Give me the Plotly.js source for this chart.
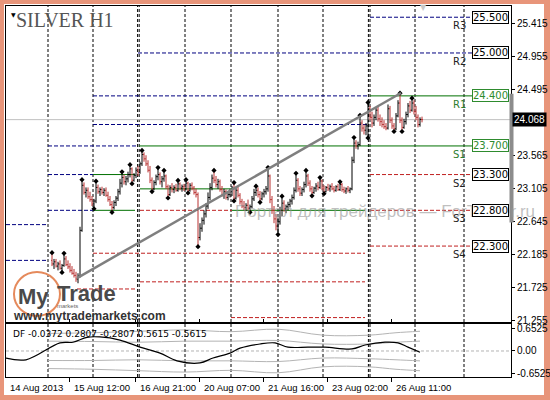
<!DOCTYPE html>
<html><head><meta charset="utf-8">
<script src="https://cdn.plot.ly/plotly-3.0.1.min.js"></script>
<style>
html,body{margin:0;padding:0;width:550px;height:400px;overflow:hidden;background:#e8957a;}
#panel{position:absolute;left:4px;top:4px;width:540px;height:391px;background:#fff;}
#chart{position:absolute;left:0;top:0;width:550px;height:400px;}
</style></head><body>
<div id="panel"></div><div id="chart"></div>
<script>
// ---------- DATA ----------
// bar index 0 ... 185 (hourly bars, SILVER H1)
const opens = [22.10,22.05,22.08,22.02,22.05,21.99,22.03,22.12,22.04,22.01,21.96,21.92,21.89,21.84,21.88,22.52,23.15,23.05,23.08,22.99,
22.95,22.90,22.93,23.12,23.06,23.09,23.05,23.08,23.01,22.95,22.88,22.84,22.91,22.97,23.06,23.18,23.26,23.20,23.24,23.30,
23.38,23.22,23.29,23.36,23.33,23.45,23.58,23.52,23.45,23.36,23.22,23.10,23.19,23.27,23.30,23.20,23.24,23.28,23.13,23.02,
23.12,23.09,23.12,23.08,23.17,23.11,23.13,23.10,23.18,23.08,23.15,23.11,23.05,23.02,22.42,22.55,22.66,22.75,22.86,22.98,
23.12,23.25,23.22,23.16,23.20,23.09,23.02,23.06,22.98,23.02,23.06,23.11,22.97,23.08,23.01,22.92,22.86,22.84,22.87,22.83,
22.85,22.96,23.05,23.08,23.02,22.96,23.03,23.06,23.10,23.28,22.95,22.80,22.68,22.58,22.64,22.80,22.90,22.82,22.85,22.88,
22.93,22.98,23.08,23.22,23.10,23.04,23.09,23.16,23.28,23.18,23.10,23.05,23.11,23.14,23.12,23.21,23.11,23.06,23.12,23.10,
23.13,23.10,23.08,23.13,23.09,23.16,23.09,23.07,23.10,23.08,23.10,23.50,23.74,23.70,23.72,24.02,23.95,23.92,23.98,24.22,
24.10,24.02,24.10,24.20,24.08,24.04,24.00,23.97,23.95,24.22,24.06,23.98,23.94,24.12,24.30,24.06,23.96,24.04,24.14,24.26,
24.20,24.30,24.18,24.10,24.00,24.07];
const highs = [22.20,22.12,22.12,22.08,22.10,22.05,22.19,22.16,22.10,22.06,22.02,21.98,21.94,21.92,22.57,23.22,23.19,23.12,23.12,23.06,
23.00,22.96,23.20,23.16,23.12,23.13,23.11,23.12,23.06,23.00,22.93,22.94,23.00,23.10,23.24,23.33,23.30,23.28,23.34,23.43,
23.40,23.32,23.40,23.42,23.48,23.63,23.61,23.57,23.50,23.42,23.26,23.22,23.30,23.39,23.33,23.28,23.35,23.30,23.16,23.15,
23.18,23.15,23.17,23.21,23.19,23.16,23.17,23.22,23.20,23.18,23.19,23.14,23.10,23.05,22.62,22.70,22.80,22.90,23.05,23.18,
23.30,23.35,23.28,23.24,23.23,23.14,23.10,23.09,23.05,23.10,23.14,23.18,23.12,23.13,23.04,22.96,22.93,22.90,22.95,22.88,
23.00,23.10,23.13,23.12,23.07,23.06,23.10,23.14,23.39,23.30,23.00,22.86,22.75,22.70,22.85,22.99,22.94,22.88,22.92,22.96,
23.02,23.12,23.31,23.25,23.14,23.12,23.20,23.35,23.31,23.22,23.14,23.13,23.18,23.20,23.25,23.23,23.15,23.14,23.17,23.16,
23.18,23.14,23.15,23.17,23.19,23.18,23.13,23.12,23.14,23.12,23.55,23.81,23.78,23.76,24.12,24.06,24.00,24.02,24.30,24.26,
24.18,24.14,24.24,24.26,24.14,24.10,24.06,24.02,24.28,24.26,24.10,24.02,24.16,24.34,24.43,24.10,24.08,24.18,24.30,24.33,
24.36,24.34,24.26,24.14,24.10,24.11];
const lows = [22.02,21.98,22.00,21.96,21.97,21.94,22.01,22.02,21.98,21.93,21.90,21.86,21.80,21.78,21.86,22.50,23.02,22.98,22.96,22.92,
22.86,22.83,22.90,23.03,23.00,23.02,23.00,22.99,22.92,22.86,22.78,22.81,22.86,22.93,23.02,23.12,23.16,23.15,23.19,23.26,
23.18,23.20,23.25,23.28,23.31,23.42,23.48,23.42,23.33,23.18,23.07,23.08,23.15,23.22,23.16,23.12,23.20,23.10,22.98,23.00,
23.05,23.04,23.06,23.06,23.08,23.06,23.07,23.08,23.05,23.06,23.08,23.02,22.98,22.30,22.38,22.50,22.60,22.70,22.82,22.94,
23.08,23.18,23.12,23.10,23.06,22.99,22.96,22.95,22.94,22.98,23.00,22.94,22.95,22.98,22.88,22.83,22.80,22.79,22.80,22.78,
22.83,22.93,23.00,22.98,22.92,22.94,22.98,23.02,23.06,22.90,22.75,22.62,22.52,22.47,22.60,22.72,22.78,22.76,22.80,22.84,
22.88,22.95,23.05,23.06,23.00,23.00,23.05,23.12,23.14,23.06,23.01,23.03,23.06,23.08,23.10,23.08,23.04,23.05,23.07,23.06,
23.08,23.05,23.06,23.07,23.07,23.06,23.04,23.03,23.05,23.04,23.08,23.46,23.66,23.65,23.70,23.90,23.86,23.85,23.82,24.06,
23.96,23.98,24.06,24.04,23.98,23.96,23.94,23.92,23.93,24.02,23.94,23.91,23.92,24.10,24.02,23.91,23.94,24.00,24.10,24.16,
24.18,24.14,24.06,23.96,23.97,24.03];
const closes = [22.05,22.08,22.02,22.05,21.99,22.03,22.12,22.04,22.01,21.96,21.92,21.89,21.84,21.88,22.52,23.15,23.05,23.08,22.99,22.95,
22.90,22.93,23.12,23.06,23.09,23.05,23.08,23.01,22.95,22.88,22.84,22.91,22.97,23.06,23.18,23.26,23.20,23.24,23.30,23.38,
23.22,23.29,23.36,23.33,23.45,23.58,23.52,23.45,23.36,23.22,23.10,23.19,23.27,23.30,23.20,23.24,23.28,23.13,23.02,23.12,
23.09,23.12,23.08,23.17,23.11,23.13,23.10,23.18,23.08,23.15,23.11,23.05,23.02,22.42,22.55,22.66,22.75,22.86,22.98,23.12,
23.25,23.22,23.16,23.20,23.09,23.02,23.06,22.98,23.02,23.06,23.11,22.97,23.08,23.01,22.92,22.86,22.84,22.87,22.83,22.85,
22.96,23.05,23.08,23.02,22.96,23.03,23.06,23.10,23.28,22.95,22.80,22.68,22.58,22.64,22.80,22.90,22.82,22.85,22.88,22.93,
22.98,23.08,23.22,23.10,23.04,23.09,23.16,23.28,23.18,23.10,23.05,23.11,23.14,23.12,23.21,23.11,23.06,23.12,23.10,23.13,
23.10,23.08,23.13,23.09,23.16,23.09,23.07,23.10,23.08,23.10,23.50,23.74,23.70,23.72,24.02,23.95,23.92,23.98,24.22,24.10,
24.02,24.10,24.20,24.08,24.04,24.00,23.97,23.95,24.22,24.06,23.98,23.94,24.12,24.30,24.06,23.96,24.04,24.14,24.26,24.20,
24.30,24.18,24.10,24.00,24.07,24.068];

// Fractals (bar indices)
const fractalUpIdx = [0,6,15,22,35,39,45,53,56,63,67,81,91,102,108,115,122,127,134,144,151,154,158,174,180];
const fractalDnIdx = [5,21,30,40,50,58,68,73,91,99,104,113,130,136,158,171,175];

// Trend line (bar index, price)
const trendIdx = [12.5, 174.5];
const trendPrice = [21.853, 24.44];

// Current price
const lastPrice = 24.068;

// Pivot levels of the current week
const pivotNames  = ["R3","R2","R1","S1","S2","S3","S4"];
const pivotPrices = [25.5, 25.0, 24.4, 23.7, 23.3, 22.8, 22.3];

// Horizontal level segments: price, start bar, end bar, kind (n = navy dashed, g = green, r = red dashed)
const segPrice = [25.5, 25.0, 24.4, 24.4, 24.0, 23.7, 23.7, 23.3, 23.3, 23.3, 23.1, 22.8, 22.8, 22.8, 22.8, 22.8, 22.6, 22.2, 22.3, 22.1, 21.8, 21.7, 21.3];
const segStart = [159, 43, 20.5, 159, 20.5, -2, 43.6, -2, 20.5, 159, 44, -2, 20.5, 44, 90, 159, -23, 20.5, 159, -23, 44, 12.5, 89.5];
const segEnd   = [210, 210, 158.2, 210, 158.2, 43, 210, 20.5, 41.5, 210, 90, 20.5, 41.5, 90, 156.5, 210, -2, 156.5, 210, -2, 156.5, 41.5, 156.5];
const segKind  = ["n","n","n","g","n","n","g","n","g","r","g","n","g","r","g","r","n","r","r","n","r","r","r"];

// Day / week separators (bar index)
const separators = [-2, 20.5, 42.8, 43.6, 66.5, 89.5, 113, 135.5, 158.2, 159, 181.5, 206];

// Time axis
const timeTickIdx = [-22.5, 8.5, 41.5, 73.5, 105.5, 137.5, 169.5];
const timeTickText = ["14 Aug 2013","15 Aug 12:00","16 Aug 21:00","20 Aug 07:00","21 Aug 16:00","23 Aug 02:00","26 Aug 11:00"];

// Price axis
const priceTicks = [21.255, 21.725, 22.185, 22.645, 23.105, 23.565, 24.495, 24.955, 25.415];

// DF oscillator (bar index, value)
const dfIdx = [-23, -13, 4, 10.5, 17.5, 24, 34, 44, 54, 62.5, 74, 80.5, 89, 94, 104, 111.5, 118, 128, 136.5, 150, 156.5, 166.5, 173, 178, 184];
const dfVal = [-0.20, -0.25, 0.23, 0.25, 0.39, 0.40, 0.31, 0.11, -0.06, -0.28, -0.34, -0.20, -0.06, 0.08, 0.20, 0.23, 0.11, 0.11, 0.11, 0.06, 0.17, 0.25, 0.23, 0.11, -0.0372];
const bandIdx = [-2, 20.5, 43, 66.5, 89.5, 113, 135.5, 158.2, 172, 184];
const bandUp2 = [0.50, 0.52, 0.56, 0.60, 0.55, 0.62, 0.45, 0.45, 0.52, 0.5615];
const bandUp1 = [0.28, 0.27, 0.25, 0.28, 0.28, 0.30, 0.20, 0.20, 0.25, 0.2807];
const bandDn1 = [-0.27, -0.27, -0.25, -0.28, -0.28, -0.30, -0.20, -0.22, -0.25, -0.2807];
const bandDn2 = [-0.50, -0.52, -0.56, -0.60, -0.55, -0.62, -0.45, -0.45, -0.52, -0.5615];

// ---------- HELPERS (pixel -> paper, for decorations only) ----------
const W = 550, H = 400, ML = 6, MR = 39, MT = 6, MB = 23;
const PW = W - ML - MR, PH = H - MT - MB;
const xp = px => (px - ML) / PW;
const yp = py => (H - MB - py) / PH;

const NAVY = '#000080', GREEN = '#007000', RED = '#c02020';
const idx = opens.map((_, i) => i);

const traces = [];
traces.push({
  type: 'ohlc', x: idx, open: opens, high: highs, low: lows, close: closes,
  xaxis: 'x', yaxis: 'y', tickwidth: 0.45, hoverinfo: 'skip',
  increasing: {line: {color: '#000000', width: 1}},
  decreasing: {line: {color: '#b83030', width: 1}}
});
traces.push({
  type: 'scatter', mode: 'markers', xaxis: 'x', yaxis: 'y', hoverinfo: 'skip',
  x: fractalUpIdx, y: fractalUpIdx.map(i => highs[i] + 0.008),
  marker: {symbol: 'diamond', size: 4, color: '#000'}
});
traces.push({
  type: 'scatter', mode: 'markers', xaxis: 'x', yaxis: 'y', hoverinfo: 'skip',
  x: fractalDnIdx, y: fractalDnIdx.map(i => lows[i] - 0.008),
  marker: {symbol: 'diamond', size: 4, color: '#000'}
});
traces.push({
  type: 'scatter', mode: 'lines', xaxis: 'x', yaxis: 'y', hoverinfo: 'skip',
  x: trendIdx, y: trendPrice, line: {color: '#7f7f7f', width: 2.5}
});
// oscillator
const bandStyle = {color: '#b4b4b4', width: 1, shape: 'spline'};
[bandUp2, bandUp1, bandDn1, bandDn2].forEach(b => traces.push({
  type: 'scatter', mode: 'lines', xaxis: 'x', yaxis: 'y2', hoverinfo: 'skip',
  x: bandIdx, y: b, line: bandStyle
}));
traces.push({
  type: 'scatter', mode: 'lines', xaxis: 'x', yaxis: 'y2', hoverinfo: 'skip',
  x: dfIdx, y: dfVal, line: {color: '#000', width: 1.2, shape: 'spline'}
});

// ---------- SHAPES ----------
const shapes = [];
separators.forEach(s => shapes.push({
  type: 'line', xref: 'x', yref: 'paper', x0: s, x1: s, y0: 0, y1: 1,
  line: {color: '#000', width: 1, dash: '3px,2px'}, layer: 'below'
}));
segPrice.forEach((p, k) => {
  const kind = segKind[k];
  shapes.push({
    type: 'line', xref: 'x', yref: 'y', x0: segStart[k], x1: segEnd[k], y0: p, y1: p,
    line: {color: kind === 'n' ? NAVY : kind === 'g' ? GREEN : RED, width: 1,
           dash: kind === 'g' ? 'solid' : '4px,2px'}, layer: 'below'
  });
});
// current price line
shapes.push({type: 'line', xref: 'paper', yref: 'y', x0: 0, x1: 1, y0: lastPrice, y1: lastPrice,
  line: {color: '#c0c0c0', width: 1}, layer: 'below'});
// zero line of oscillator
shapes.push({type: 'line', xref: 'paper', yref: 'y2', x0: 0, x1: 1, y0: 0, y1: 0,
  line: {color: '#b4b4b4', width: 1, dash: '3px,2px'}, layer: 'below'});
// range bar at the price scale
shapes.push({type: 'rect', xref: 'paper', yref: 'y', x0: xp(509.5), x1: xp(513.5), y0: 22.63, y1: 24.43,
  fillcolor: '#8c8c8c', line: {width: 0}});
// logo ring
shapes.push({type: 'circle', xref: 'paper', yref: 'paper', x0: xp(14), x1: xp(60), y0: yp(316), y1: yp(272),
  line: {color: '#e58a5c', width: 2}});

// ---------- ANNOTATIONS ----------
const ann = [];
ann.push({xref: 'paper', yref: 'paper', x: xp(14), y: yp(20), xanchor: 'left', yanchor: 'middle', showarrow: false,
  text: 'SILVER H1', font: {family: 'Liberation Serif', size: 20, color: '#555'}});
ann.push({xref: 'paper', yref: 'paper', x: xp(13), y: yp(14), xanchor: 'center', yanchor: 'middle', showarrow: false,
  text: '▼', font: {family: 'DejaVu Sans', size: 6, color: '#000'}});
ann.push({xref: 'paper', yref: 'paper', x: xp(423), y: yp(8), xanchor: 'center', yanchor: 'middle', showarrow: false,
  text: '▼', font: {family: 'DejaVu Sans', size: 8, color: '#c8c8c8'}});
// watermark
ann.push({xref: 'paper', yref: 'paper', x: xp(233), y: yp(211), xanchor: 'left', yanchor: 'middle', showarrow: false,
  text: 'Портал для трейдеров — ForTrader.ru', font: {family: 'Liberation Sans', size: 17, color: 'rgba(150,150,150,0.6)'}});
// pivot boxes and names
pivotPrices.forEach((p, k) => {
  const green = (pivotNames[k] === 'R1' || pivotNames[k] === 'S1');
  ann.push({xref: 'paper', yref: 'y', x: xp(472), y: p, xanchor: 'left', yanchor: 'middle', showarrow: false,
    text: p.toFixed(3), bgcolor: '#fff', bordercolor: green ? '#2e8b2e' : '#000', borderwidth: 1, borderpad: 0,
    font: {family: 'DejaVu Sans', size: 10, color: green ? '#2e8b2e' : '#000'}});
  ann.push({xref: 'paper', yref: 'y', x: xp(468), y: p, xanchor: 'right', yanchor: 'top', yshift: -1, showarrow: false,
    text: pivotNames[k], font: {family: 'DejaVu Sans', size: 10, color: green ? '#2e7d2e' : '#222'}});
});
// current price tag
ann.push({xref: 'paper', yref: 'y', x: 1, y: lastPrice, xanchor: 'left', yanchor: 'middle', showarrow: false,
  text: lastPrice.toFixed(3), bgcolor: '#000', borderpad: 1, xshift: 1,
  font: {family: 'Liberation Sans', size: 10, color: '#fff'}});
// logo text
ann.push({xref: 'paper', yref: 'paper', x: xp(16), y: yp(296), xanchor: 'left', yanchor: 'middle', showarrow: false,
  text: '<b>My</b>', font: {family: 'Liberation Sans', size: 22, color: '#4a4a4a'}});
ann.push({xref: 'paper', yref: 'paper', x: xp(55), y: yp(293), xanchor: 'left', yanchor: 'middle', showarrow: false,
  text: '<b>Trade</b>', font: {family: 'Liberation Sans', size: 22, color: '#4a4a4a'}});
ann.push({xref: 'paper', yref: 'paper', x: xp(55), y: yp(306), xanchor: 'left', yanchor: 'middle', showarrow: false,
  text: 'markets', font: {family: 'Liberation Sans', size: 6, color: '#666'}});
ann.push({xref: 'paper', yref: 'paper', x: xp(11), y: yp(316), xanchor: 'left', yanchor: 'middle', showarrow: false,
  text: '<b>www.mytrademarkets.com</b>', font: {family: 'Liberation Sans', size: 12, color: '#333'}});
// oscillator caption
ann.push({xref: 'paper', yref: 'paper', x: xp(11), y: yp(334), xanchor: 'left', yanchor: 'middle', showarrow: false,
  text: 'DF -0.0372 0.2807 -0.2807 0.5615 -0.5615', font: {family: 'DejaVu Sans', size: 9, color: '#000'}});
// time labels (left-aligned at their ticks, as in the terminal)
timeTickIdx.forEach((t, k) => ann.push({xref: 'x', yref: 'paper', x: t, y: yp(387), xanchor: 'left', yanchor: 'middle',
  xshift: k === 0 ? 1 : 3, showarrow: false, text: timeTickText[k],
  font: {family: 'Liberation Sans', size: 9.5, color: '#000'}}));

const axisFont = {family: 'Liberation Sans', size: 10, color: '#000'};
const layout = {
  width: W, height: H, margin: {l: ML, r: MR, t: MT, b: MB, pad: 0},
  paper_bgcolor: 'rgba(0,0,0,0)', plot_bgcolor: 'rgba(0,0,0,0)', showlegend: false,
  xaxis: {range: [-23, 229.5], anchor: 'y2', showgrid: false, zeroline: false,
    showline: true, mirror: 'all', linecolor: '#000', linewidth: 1,
    ticks: 'outside', ticklen: 4, tickcolor: '#000', tickvals: timeTickIdx.slice(1), showticklabels: false,
    rangeslider: {visible: false}, fixedrange: true},
  yaxis: {domain: [0.148, 1], range: [21.237, 25.657], side: 'right', anchor: 'x', showgrid: false, zeroline: false,
    showline: true, mirror: true, linecolor: '#000', linewidth: 1,
    ticks: 'outside', ticklen: 3, tickcolor: '#000', tickvals: priceTicks, ticktext: priceTicks.map(v => v.toFixed(3)),
    tickfont: axisFont, fixedrange: true},
  yaxis2: {domain: [0, 0.143], range: [-0.74, 0.77], side: 'right', anchor: 'x', showgrid: false, zeroline: false,
    showline: true, mirror: true, linecolor: '#000', linewidth: 1,
    ticks: 'outside', ticklen: 3, tickcolor: '#000', tickvals: [0.6525, 0, -0.6525], ticktext: ['0.6525', '0.00', '-0.6525'],
    tickfont: axisFont, fixedrange: true},
  shapes: shapes, annotations: ann
};
Plotly.newPlot('chart', traces, layout, {staticPlot: true, displayModeBar: false});
</script></body></html>
